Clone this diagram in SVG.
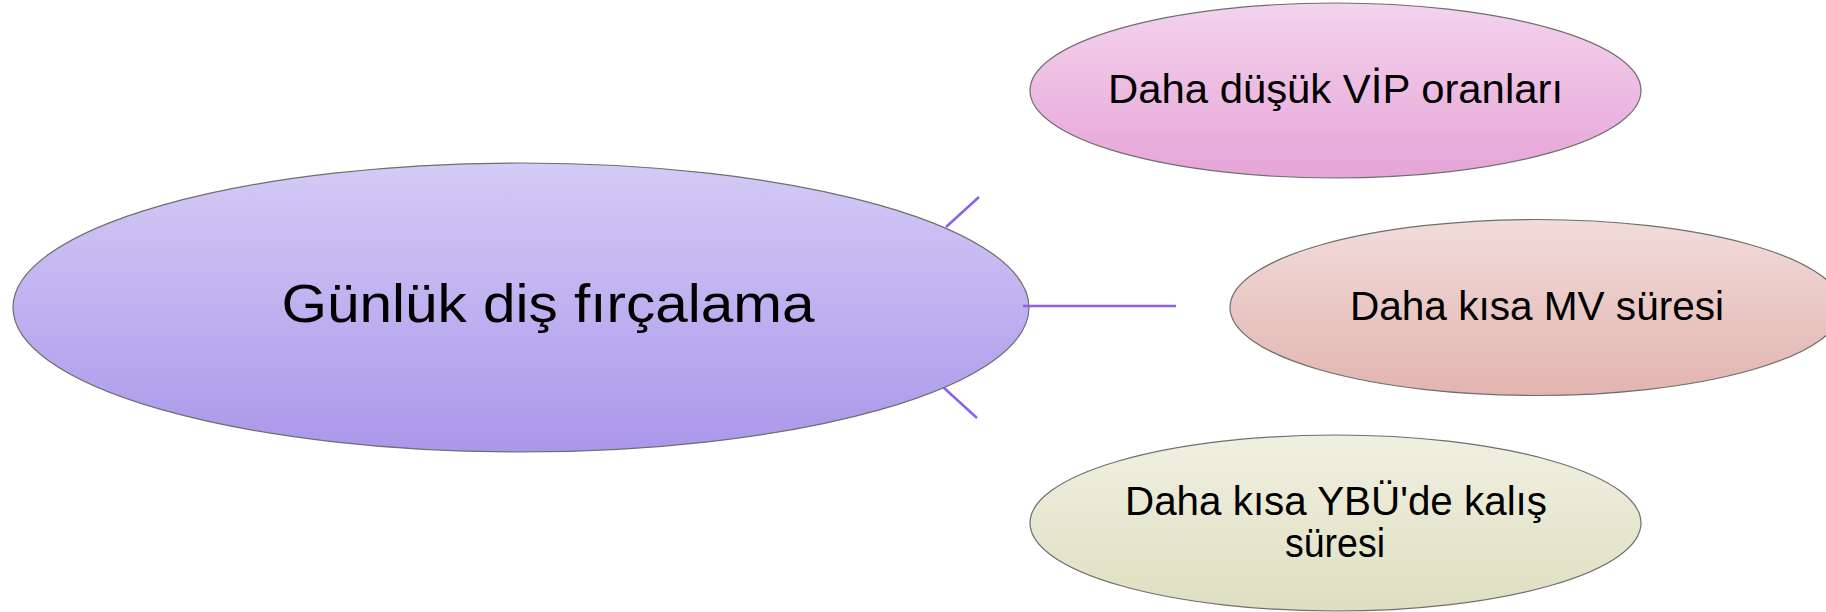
<svg xmlns="http://www.w3.org/2000/svg" width="1826" height="612" viewBox="0 0 1826 612">
  <defs>
    <linearGradient id="gMain" x1="0" y1="0" x2="0" y2="1">
      <stop offset="0" stop-color="#d4cbf6"/>
      <stop offset="1" stop-color="#aa97ea"/>
    </linearGradient>
    <linearGradient id="gTop" x1="0" y1="0" x2="0" y2="1">
      <stop offset="0" stop-color="#f4d3ed"/>
      <stop offset="1" stop-color="#e6a4d7"/>
    </linearGradient>
    <linearGradient id="gMid" x1="0" y1="0" x2="0" y2="1">
      <stop offset="0" stop-color="#f1dcda"/>
      <stop offset="1" stop-color="#e2b4b0"/>
    </linearGradient>
    <linearGradient id="gBot" x1="0" y1="0" x2="0" y2="1">
      <stop offset="0" stop-color="#f0f0e2"/>
      <stop offset="1" stop-color="#dedfc0"/>
    </linearGradient>
  </defs>
  <style>
    .node { stroke: #6e6e6e; stroke-width: 1.2; }
    .conn { stroke: #8a60ec; stroke-width: 2.5; fill: none; }
    .lbl { font-family: "Liberation Sans", Arial, sans-serif; fill: #000000; text-anchor: middle; }
    .small { font-size: 40px; }
    .big { font-size: 54px; }
  </style>
  <rect width="1826" height="612" fill="#ffffff"/>
  <g id="connectors">
    <line class="conn" x1="979" y1="197" x2="946" y2="227"/>
    <line class="conn" x1="943" y1="387" x2="977" y2="418"/>
  </g>
  <g id="node-main">
    <ellipse class="node" cx="521" cy="307.5" rx="508" ry="144.5" fill="url(#gMain)"/>
    <text class="lbl big" x="548" y="322" textLength="533" lengthAdjust="spacingAndGlyphs">Günlük diş fırçalama</text>
  </g>
  <g id="connector-mid">
    <line class="conn" x1="1023" y1="306" x2="1176" y2="306"/>
  </g>
  <g id="node-top">
    <ellipse class="node" cx="1335.5" cy="90.5" rx="305.5" ry="87.5" fill="url(#gTop)"/>
    <text class="lbl small" x="1335.5" y="103" textLength="455" lengthAdjust="spacingAndGlyphs">Daha düşük VİP oranları</text>
  </g>
  <g id="node-mid">
    <ellipse class="node" cx="1536" cy="307.5" rx="306" ry="88" fill="url(#gMid)"/>
    <text class="lbl small" x="1537" y="320" textLength="374" lengthAdjust="spacingAndGlyphs">Daha kısa MV süresi</text>
  </g>
  <g id="node-bot">
    <ellipse class="node" cx="1335.5" cy="523" rx="305.5" ry="88" fill="url(#gBot)"/>
    <text class="lbl small" x="1336" y="515" textLength="422" lengthAdjust="spacingAndGlyphs">Daha kısa YBÜ'de kalış</text>
    <text class="lbl small" x="1335" y="557" textLength="100" lengthAdjust="spacingAndGlyphs">süresi</text>
  </g>
</svg>
